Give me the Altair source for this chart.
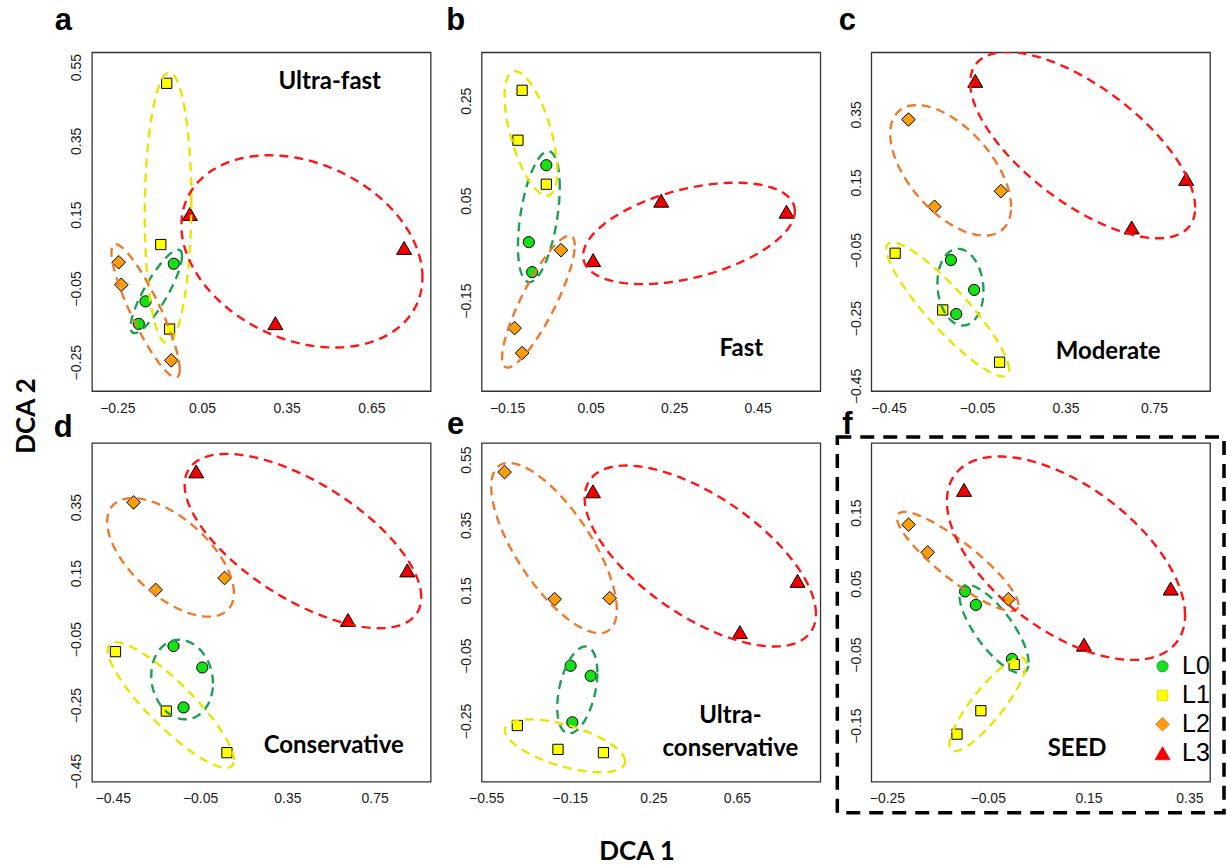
import altair as alt
import numpy as np
import pandas as pd

# ---------------- data ----------------
GROUPS = ["L0", "L1", "L2", "L3"]
POINT_FILL = ["#16E016", "#FFFF00", "#FF9E0A", "#F00000"]
ELLIPSE_STROKE = ["#1F9E55", "#E8E600", "#EE7A2E", "#FF1515"]
SHAPES = ["circle", "square", "diamond", "triangle-up"]
SIZES = [125, 105, 185, 225]

PANELS = ["a", "b", "c", "d", "e", "f"]
TITLES = {
    "a": ["Ultra-fast"],
    "b": ["Fast"],
    "c": ["Moderate"],
    "d": ["Conservative"],
    "e": ["Ultra-", "conservative"],
    "f": ["SEED"],
}

X_DOMAIN = {"a": [-0.34, 0.86], "b": [-0.211, 0.600], "c": [-0.528, 1.003],
            "d": [-0.546, 1.007], "e": [-0.572, 1.049], "f": [-0.281, 0.391]}
Y_DOMAIN = {"a": [-0.328, 0.59], "b": [-0.331, 0.347], "c": [-0.465, 0.533],
            "d": [-0.482, 0.544], "e": [-0.436, 0.601], "f": [-0.229, 0.248]}
X_TICKS = {"a": [-0.25, 0.05, 0.35, 0.65], "b": [-0.15, 0.05, 0.25, 0.45],
           "c": [-0.45, -0.05, 0.35, 0.75], "d": [-0.45, -0.05, 0.35, 0.75],
           "e": [-0.55, -0.15, 0.25, 0.65], "f": [-0.25, -0.05, 0.15, 0.35]}
Y_TICKS = {"a": [-0.25, -0.05, 0.15, 0.35, 0.55], "b": [-0.15, 0.05, 0.25],
           "c": [-0.45, -0.25, -0.05, 0.15, 0.35], "d": [-0.45, -0.25, -0.05, 0.15, 0.35],
           "e": [-0.25, -0.05, 0.15, 0.35, 0.55], "f": [-0.15, -0.05, 0.05, 0.15]}

# site scores (DCA1, DCA2) per panel and group
PT_X = {
    "a": {"L0": [-0.050, -0.150, -0.174], "L1": [-0.075, -0.096, -0.065],
          "L2": [-0.245, -0.236, -0.059], "L3": [0.007, 0.766, 0.310]},
    "b": {"L0": [-0.056, -0.098, -0.090], "L1": [-0.114, -0.124, -0.056],
          "L2": [-0.021, -0.132, -0.114], "L3": [0.056, 0.219, 0.519]},
    "c": {"L0": [-0.168, -0.063, -0.144], "L1": [-0.420, -0.205, 0.052],
          "L2": [-0.360, -0.242, 0.058], "L3": [-0.058, 0.895, 0.649]},
    "d": {"L0": [-0.172, -0.040, -0.126], "L1": [-0.438, -0.205, 0.073],
          "L2": [-0.355, -0.254, 0.062], "L3": [-0.068, 0.900, 0.628]},
    "e": {"L0": [-0.146, -0.050, -0.138], "L1": [-0.401, -0.2065, 0.011],
          "L2": [-0.462, -0.2225, 0.041], "L3": [-0.039, 0.940, 0.664]},
    "f": {"L0": [-0.095, -0.0735, -0.002], "L1": [0.0025, -0.0636, -0.111],
          "L2": [-0.207, -0.169, -0.009], "L3": [-0.097, 0.313, 0.141]},
}
PT_Y = {
    "a": {"L0": [0.017, -0.085, -0.146], "L1": [0.506, 0.069, -0.160],
          "L2": [0.021, -0.040, -0.245], "L3": [0.152, 0.060, -0.144]},
    "b": {"L0": [0.121, -0.033, -0.093], "L1": [0.271, 0.171, 0.083],
          "L2": [-0.049, -0.205, -0.255], "L3": [-0.069, 0.050, 0.028]},
    "c": {"L0": [-0.079, -0.167, -0.238], "L1": [-0.059, -0.226, -0.380],
          "L2": [0.335, 0.078, 0.124], "L3": [0.449, 0.160, 0.017]},
    "d": {"L0": [-0.071, -0.136, -0.257], "L1": [-0.088, -0.268, -0.394],
          "L2": [0.364, 0.099, 0.135], "L3": [0.458, 0.158, 0.008]},
    "e": {"L0": [-0.081, -0.112, -0.254], "L1": [-0.264, -0.337, -0.347],
          "L2": [0.512, 0.123, 0.126], "L3": [0.453, 0.179, 0.022]},
    "f": {"L0": [0.039, 0.020, -0.056], "L1": [-0.064, -0.129, -0.162],
          "L2": [0.133, 0.094, 0.028], "L3": [0.182, 0.043, -0.036]},
}

# dispersion ellipses: extents in x and y, and tilt (correlation) per group
ELL_X = {
    "a": {"L0": [-0.203, -0.021], "L1": [-0.153, 0.012], "L2": [-0.271, -0.029], "L3": [-0.023, 0.831]},
    "b": {"L0": [-0.124, -0.024], "L1": [-0.156, -0.030], "L2": [-0.162, 0.012], "L3": [0.032, 0.539]},
    "c": {"L0": [-0.229, -0.021], "L1": [-0.4605, 0.095], "L2": [-0.4425, 0.104], "L3": [-0.081, 0.936]},
    "d": {"L0": [-0.274, 0.009], "L1": [-0.4735, 0.105], "L2": [-0.476, 0.105], "L3": [-0.121, 0.964]},
    "e": {"L0": [-0.210, -0.018], "L1": [-0.4605, 0.1145], "L2": [-0.526, 0.075], "L3": [-0.079, 1.028]},
    "f": {"L0": [-0.106, 0.031], "L1": [-0.126, 0.026], "L2": [-0.230, 0.011], "L3": [-0.131, 0.3415]},
}
ELL_Y = {
    "a": {"L0": [-0.171, 0.055], "L1": [-0.198, 0.535], "L2": [-0.291, 0.070], "L3": [-0.210, 0.311]},
    "b": {"L0": [-0.113, 0.149], "L1": [0.060, 0.309], "L2": [-0.284, -0.020], "L3": [-0.117, 0.086]},
    "c": {"L0": [-0.272, -0.046], "L1": [-0.422, -0.027], "L2": [-0.007, 0.3775], "L3": [-0.015, 0.534]},
    "d": {"L0": [-0.293, -0.052], "L1": [-0.440, -0.0595], "L2": [0.018, 0.377], "L3": [-0.017, 0.511]},
    "e": {"L0": [-0.288, -0.022], "L1": [-0.407, -0.245], "L2": [0.019, 0.540], "L3": [-0.022, 0.532]},
    "f": {"L0": [-0.076, 0.048], "L1": [-0.186, -0.054], "L2": [0.0115, 0.151], "L3": [-0.0575, 0.229]},
}
ELL_RHO = {
    "a": {"L0": 0.85, "L1": 0.05, "L2": -0.88, "L3": -0.27},
    "b": {"L0": 0.45, "L1": -0.6, "L2": 0.85, "L3": 0.44},
    "c": {"L0": -0.1, "L1": -0.9, "L2": -0.56, "L3": -0.67},
    "d": {"L0": -0.1, "L1": -0.875, "L2": -0.6, "L3": -0.645},
    "e": {"L0": 0.4, "L1": -0.59, "L2": -0.72, "L3": -0.64},
    "f": {"L0": -0.76, "L1": 0.86, "L2": -0.88, "L3": -0.56},
}

# ---------------- layout (pixels, relative to each plot area) ----------------
W = 339
H = 339
TITLE_POS = {"a": [(238, 30)], "b": [(260, 297)], "c": [(237, 300)],
             "d": [(242, 303)], "e": [(249, 273), (249, 306)], "f": [(206, 306)]}
LETTER_POS = {"a": (-28.7, -22.7), "b": (-26, -22.7), "c": (-24, -22.7),
              "d": (-28.7, -6), "e": (-26, -9), "f": (-24, -9)}

LABEL_FONT = "Liberation Sans"
TITLE_FONT = "Lato"


def ellipse_frame(p):
    t = np.linspace(0, 2 * np.pi, 145)
    rows = []
    for g in GROUPS:
        x0, x1 = ELL_X[p][g]
        y0, y1 = ELL_Y[p][g]
        cx, hx = (x0 + x1) / 2, (x1 - x0) / 2
        cy, hy = (y0 + y1) / 2, (y1 - y0) / 2
        d = np.arccos(ELL_RHO[p][g])
        xs = cx + hx * np.cos(t)
        ys = cy + hy * np.cos(t - d)
        for i, (xx, yy) in enumerate(zip(xs, ys)):
            rows.append({"group": g, "i": i, "x": float(xx), "y": float(yy)})
    return pd.DataFrame(rows)


def point_frame(p):
    rows = []
    for g in GROUPS:
        for xx, yy in zip(PT_X[p][g], PT_Y[p][g]):
            rows.append({"group": g, "x": xx, "y": yy})
    return pd.DataFrame(rows)


def panel(p):
    xs = alt.Scale(domain=X_DOMAIN[p], nice=False, zero=False)
    ys = alt.Scale(domain=Y_DOMAIN[p], nice=False, zero=False)
    xaxis = alt.Axis(values=X_TICKS[p], format=".2f", title=None, grid=False,
                     domain=False, ticks=False, labelFontSize=14, labelFont=LABEL_FONT,
                     labelColor="#1a1a1a", labelPadding=10, labelFlush=False,
                     labelOverlap=False)
    yaxis = alt.Axis(values=Y_TICKS[p], format=".2f", title=None, grid=False,
                     domain=False, ticks=False, labelAngle=-90, labelAlign="center",
                     labelBaseline="bottom", labelFontSize=14, labelFont=LABEL_FONT,
                     labelColor="#1a1a1a", labelPadding=8, labelFlush=False,
                     labelOverlap=False)
    if p == "f":
        leg = alt.Legend(orient="none", legendX=279, legendY=211, title=None,
                         labelFontSize=25, labelFont=LABEL_FONT, labelColor="black",
                         symbolStrokeColor="black", symbolStrokeWidth=1,
                         rowPadding=3, padding=0, labelOffset=7, symbolOpacity=1)
    else:
        leg = None

    pts = alt.Chart(point_frame(p)).mark_point(
        filled=True, opacity=1, stroke="black", strokeWidth=1
    ).encode(
        x=alt.X("x:Q", scale=xs, axis=xaxis),
        y=alt.Y("y:Q", scale=ys, axis=yaxis),
        fill=alt.Fill("group:N", scale=alt.Scale(domain=GROUPS, range=POINT_FILL), legend=leg),
        shape=alt.Shape("group:N", scale=alt.Scale(domain=GROUPS, range=SHAPES), legend=leg),
        size=alt.Size("group:N", scale=alt.Scale(type="ordinal", domain=GROUPS, range=SIZES),
                      legend=leg),
    )

    ell = alt.Chart(ellipse_frame(p)).mark_line(
        strokeDash=[9, 6], strokeWidth=2.4, clip=True
    ).encode(
        x=alt.X("x:Q", scale=xs),
        y=alt.Y("y:Q", scale=ys),
        stroke=alt.Stroke("group:N", scale=alt.Scale(domain=GROUPS, range=ELLIPSE_STROKE),
                          legend=None),
        order=alt.Order("i:Q"),
    )

    layers = [pts, ell]

    for line, (tx, ty) in zip(TITLES[p], TITLE_POS[p]):
        layers.append(
            alt.Chart(pd.DataFrame({"label": [line]})).mark_text(
                font=TITLE_FONT, fontWeight="bold", fontSize=24, align="center",
                baseline="middle", color="black"
            ).encode(text="label:N", x=alt.value(tx), y=alt.value(ty))
        )

    lx, ly = LETTER_POS[p]
    layers.append(
        alt.Chart(pd.DataFrame({"label": [p]})).mark_text(
            font=LABEL_FONT, fontWeight="bold", fontSize=31, align="center",
            baseline="alphabetic", color="black"
        ).encode(text="label:N", x=alt.value(lx), y=alt.value(ly))
    )

    if p == "a":
        # white anchor at the page's top-left corner
        layers.append(
            alt.Chart(pd.DataFrame({"k": [0]})).mark_rect(color="white").encode(
                x=alt.value(-90.7), x2=alt.value(-89.7),
                y=alt.value(-50.7), y2=alt.value(-49.7))
        )
    if p == "d":
        layers.append(
            alt.Chart(pd.DataFrame({"label": ["DCA 2"]})).mark_text(
                font=TITLE_FONT, fontWeight="bold", fontSize=26, align="center",
                baseline="middle", angle=270, color="black"
            ).encode(text="label:N", x=alt.value(-64.7), y=alt.value(-27))
        )
    if p == "e":
        layers.append(
            alt.Chart(pd.DataFrame({"label": ["DCA 1"]})).mark_text(
                font=TITLE_FONT, fontWeight="bold", fontSize=26, align="center",
                baseline="middle", color="black"
            ).encode(text="label:N", x=alt.value(155.5), y=alt.value(409))
        )
    if p == "f":
        layers.append(
            alt.Chart(pd.DataFrame({"k": [0]})).mark_rect(
                fillOpacity=0, stroke="black", strokeWidth=3.5, strokeDash=[14, 9]
            ).encode(x=alt.value(-34), x2=alt.value(353),
                     y=alt.value(-6), y2=alt.value(370))
        )

    return alt.layer(*layers).properties(width=W, height=H)


chart = alt.concat(
    *[panel(p) for p in PANELS], columns=3,
    spacing={"row": 52, "column": 51}, bounds="flush"
).resolve_scale(
    fill="independent", shape="independent", size="independent", stroke="independent"
).configure_view(
    stroke="#333333", strokeWidth=1.3
).properties(padding=0, background="white")

chart.save("out.html", embed_options={"renderer": "svg", "actions": False})
